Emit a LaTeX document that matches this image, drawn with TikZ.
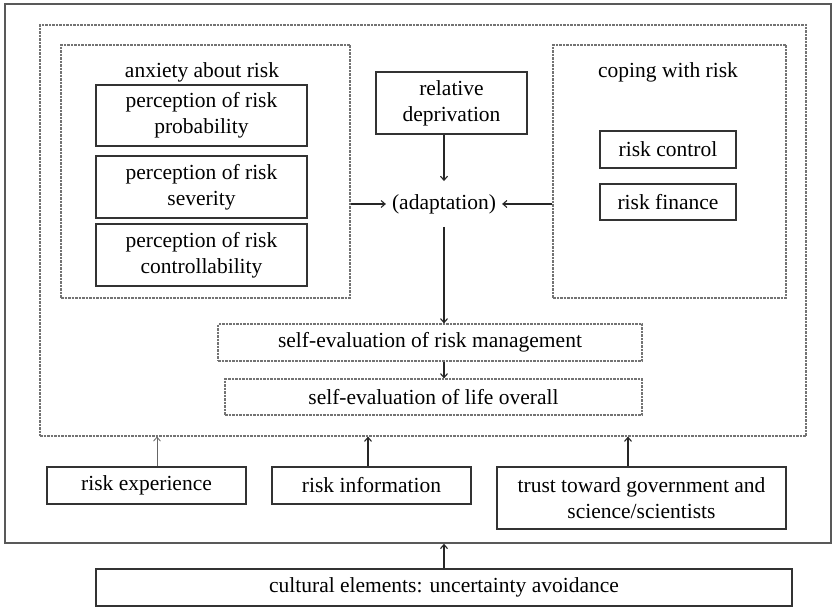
\documentclass[tikz,border=0pt]{standalone}
\usepackage{fontspec}
\setmainfont{Liberation Serif}
\usetikzlibrary{arrows.meta}
\begin{document}
\begin{tikzpicture}[x=1pt,y=-1pt,
  txt/.style={font=\fontsize{21.5}{26}\selectfont, text=black, align=center, inner sep=0pt},
  solidbox/.style={txt, draw=black!80, line width=1.2pt, minimum width=#1},
  dashbox/.style={txt, draw=black!55, line width=1.2pt, dash pattern=on 2.5pt off 1pt, minimum width=#1},
  region/.style={draw=black!55, line width=1.2pt, dash pattern=on 2.5pt off 1pt, inner sep=0pt},
  arr/.style={draw=black!85, line width=1.1pt, -{Straight Barb[length=4pt,width=7pt]}},
  thinarr/.style={draw=black!60, line width=0.8pt, -{Straight Barb[length=4pt,width=7pt]}}
]
\useasboundingbox (0,0) rectangle (832,609);
\fill[white] (0,0) rectangle (832,609);

% frames
\node[draw=black!65, line width=1.6pt, inner sep=0pt, minimum width=826pt, minimum height=539pt] (outer) at (418,273.5) {};
\node[region, minimum width=766pt, minimum height=411pt] (inner) at (423,230.5) {};
\node[region, minimum width=289pt, minimum height=253pt] (anx) at (205.5,171.5) {};
\node[region, minimum width=233pt, minimum height=253pt] (cop) at (669.5,171.5) {};

% titles
\node[txt] (anxt) at (202,72) {anxiety about risk};
\node[txt] (copt) at (668,72) {coping with risk};

% left boxes
\node[solidbox=211pt, minimum height=61pt] (p1) at (201.5,115.5) {perception of risk\\probability};
\node[solidbox=211pt, minimum height=62pt] (p2) at (201.5,187) {perception of risk\\severity};
\node[solidbox=211pt, minimum height=62pt] (p3) at (201.5,255) {perception of risk\\controllability};

% center
\node[solidbox=151pt, minimum height=62pt] (rel) at (451.5,103) {relative\\deprivation};
\node[txt, inner xsep=6pt, inner ysep=13pt] (adapt) at (444,204) {(adaptation)};

% right boxes
\node[solidbox=136pt, minimum height=37pt] (rc) at (668,149.5) {risk control};
\node[solidbox=136pt, minimum height=36pt] (rf) at (668,202) {risk finance};

% self evaluation
\node[dashbox=424pt, minimum height=37pt] (se1) at (430,342.5) {self-evaluation of risk management};
\node[dashbox=417pt, minimum height=36pt] (se2) at (433.5,397) {self-evaluation of life overall};

% bottom boxes
\node[solidbox=199pt, minimum height=37pt] (rexp) at (146.5,485.5) {risk experience};
\node[solidbox=199pt, minimum height=37pt] (rinfo) at (371.5,485.5) {risk information};
\node[solidbox=289pt, minimum height=62pt] (trust) at (641.5,498) {trust toward government and\\science/scientists};
\node[solidbox=696pt, minimum height=37pt] (cult) at (444,587.5) {cultural elements: uncertainty avoidance};

% connectors
\draw[arr] (adapt.north |- rel.south) -- (adapt.north);
\draw[arr] (anx.east |- adapt.west) -- (adapt.west);
\draw[arr] (cop.west |- adapt.east) -- (adapt.east);
\draw[arr] (adapt.south) -- (adapt.south |- se1.north);
\draw[arr] (adapt.south |- se1.south) -- (adapt.south |- se2.north);

\coordinate (c1) at (157,0);
\coordinate (c2) at (368,0);
\coordinate (c3) at (628,0);
\draw[thinarr] (c1 |- rexp.north) -- (c1 |- inner.south);
\draw[arr] (c2 |- rinfo.north) -- (c2 |- inner.south);
\draw[arr] (c3 |- trust.north) -- (c3 |- inner.south);
\draw[arr] (adapt.south |- cult.north) -- (adapt.south |- outer.south);
\end{tikzpicture}
\end{document}
